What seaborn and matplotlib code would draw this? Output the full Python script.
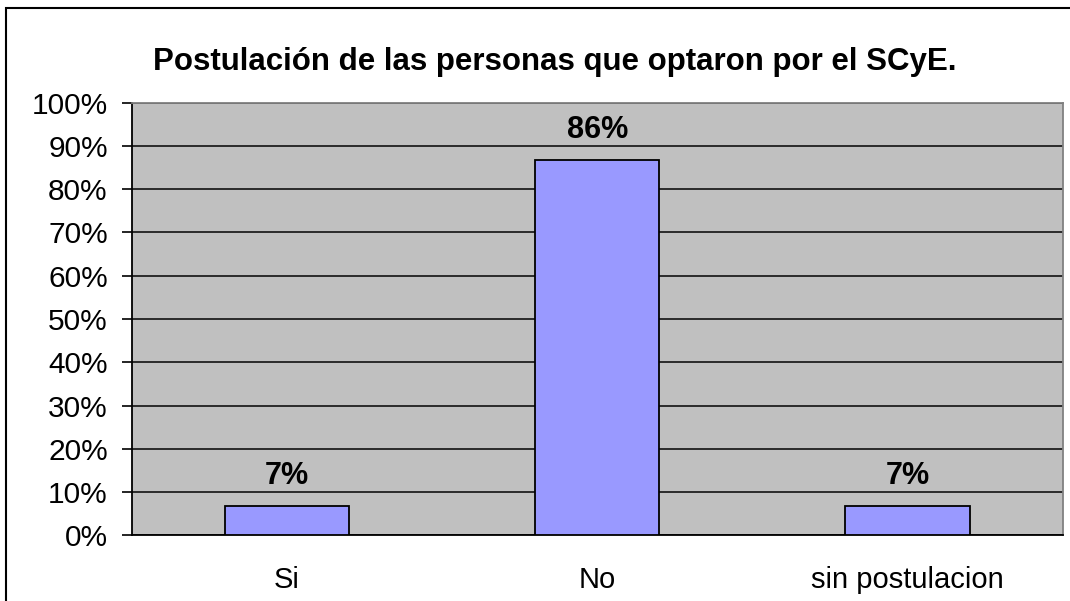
import numpy as np
import pandas as pd
import seaborn as sns
import matplotlib.pyplot as plt
from matplotlib.ticker import FixedLocator, PercentFormatter
from matplotlib.patches import Rectangle

categories = ["Si", "No", "sin postulacion"]
values = [0.0667, 0.8667, 0.0667]
labels = ["7%", "86%", "7%"]
title = "Postulación de las personas que optaron por el SCyE."

sns.set_style("white")
plt.rcParams['font.family'] = ['Liberation Sans', 'DejaVu Sans']
plt.rcParams['text.color'] = 'black'
plt.rcParams['xtick.color'] = 'black'
plt.rcParams['ytick.color'] = 'black'

df = pd.DataFrame({"cat": categories, "val": values})

fig = plt.figure(figsize=(10.7, 6.01), dpi=100)
ax = fig.add_axes([131.7 / 1070, 65.7 / 601, 931 / 1070, 432.6 / 601])
ax.set_facecolor("#C0C0C0")

sns.barplot(data=df, x="cat", y="val", color="#9999FF", width=0.4,
            edgecolor="black", linewidth=1.3, saturation=1, ax=ax, zorder=3)

ax.set_xlim(-0.5, 2.5)
ax.set_ylim(0, 1)
ax.yaxis.set_major_locator(FixedLocator(np.arange(0, 1.01, 0.1)))
ax.yaxis.set_major_formatter(PercentFormatter(1.0, decimals=0))
ax.grid(axis="y", color="#111111", linewidth=1.2, zorder=1)
ax.set_axisbelow(True)

ax.set_xticks(range(len(categories)))
ax.set_xticklabels(categories)
ax.xaxis.set_minor_locator(FixedLocator([-0.5, 0.5, 1.5, 2.5]))
ax.tick_params(axis="x", which="major", length=0, pad=22, labelsize=21, labelcolor="black")
ax.tick_params(axis="x", which="minor", length=7.2, width=1.2, color="black", direction="out")
ax.tick_params(axis="y", length=7.2, width=1.2, color="black", direction="out",
               labelsize=21.5, pad=10, left=True, labelcolor="black")
ax.set_xlabel("")
ax.set_ylabel("")

for side in ["left", "bottom"]:
    ax.spines[side].set_color("black")
    ax.spines[side].set_linewidth(1.3)
for side in ["top", "right"]:
    ax.spines[side].set_color("#808080")
    ax.spines[side].set_linewidth(1.3)

for i, (v, lab) in enumerate(zip(values, labels)):
    ax.text(i, v + 0.036, lab, ha="center", va="bottom", fontsize=22, fontweight="bold", color="black")

fig.text(555 / 1070, 1 - 62 / 601, title, ha="center", va="center", fontsize=22.5,
         fontweight="bold", color="black")

fig.patches.append(Rectangle((6 / 1070, -0.01), 1.02, 1 - 8 / 601 + 0.01, transform=fig.transFigure,
                             fill=False, edgecolor="black", linewidth=1.5))

fig.savefig("out.png", dpi=100)
